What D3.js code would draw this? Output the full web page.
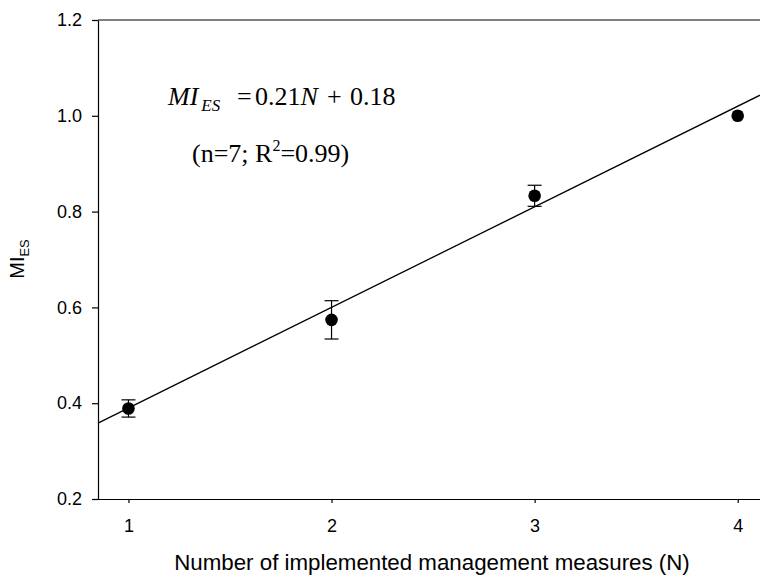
<!DOCTYPE html>
<html>
<head>
<meta charset="utf-8">
<script src="https://cdn.jsdelivr.net/npm/d3@7"></script>
<style>
  body { margin: 0; background: #fff; }
  svg { display: block; }
  .axis text { font-family: Arial, "Liberation Sans", sans-serif; font-size: 18px; fill: #000; }
  .axis path, .axis line { stroke: #000; stroke-width: 1.2; }
</style>
</head>
<body>
<svg width="760" height="577"></svg>
<script>
// data
var measures = [1, 2, 3, 4];
var miMeans = [0.389, 0.574, 0.833, 1.0];
var miErrors = [0.018, 0.040, 0.022, 0];
var xTicks = [1, 2, 3, 4];
var yTicks = [0.2, 0.4, 0.6, 0.8, 1.0, 1.2];
var fitSlope = 0.21, fitIntercept = 0.18;

var svg = d3.select("svg"),
    pLeft = 98, pTop = 20, pBottom = 499, pRight = 760;

var x = d3.scaleLinear().domain([0.85, 4.1]).range([pLeft, 758]),
    y = d3.scaleLinear().domain([0.2, 1.2]).range([pBottom, pTop]);

var points = measures.map(function(n, i) {
  return { n: n, mean: miMeans[i], err: miErrors[i] };
});

// top frame line
svg.append("line")
    .attr("x1", pLeft).attr("x2", pRight)
    .attr("y1", pTop).attr("y2", pTop)
    .attr("stroke", "#000").attr("stroke-width", 1.2);

// x as
var gx = svg.append("g")
    .attr("class", "axis")
    .attr("transform", "translate(0," + pBottom + ")")
    .call(d3.axisBottom(x).tickValues(xTicks).tickFormat(d3.format("d"))
      .tickSizeInner(4).tickSizeOuter(0).tickPadding(16));
gx.select(".domain").attr("d", "M" + pLeft + ",0.5H" + pRight);

// y as
svg.append("g")
    .attr("class", "axis")
    .attr("transform", "translate(" + pLeft + ",0)")
    .call(d3.axisLeft(y).tickValues(yTicks).tickFormat(d3.format(".1f"))
      .tickSizeInner(6).tickSizeOuter(0).tickPadding(10));

// regressielijn
var lineN = [x.domain()[0], x.invert(pRight)];
svg.append("path")
    .datum(lineN)
    .attr("fill", "none")
    .attr("stroke", "#000")
    .attr("stroke-width", 1.3)
    .attr("d", d3.line()
      .x(function(n) { return x(n); })
      .y(function(n) { return y(fitSlope * n + fitIntercept); }));

// foutbalken
var eb = svg.append("g").selectAll("g")
    .data(points.filter(function(d) { return d.err > 0; }))
    .enter().append("g")
    .attr("stroke", "#000").attr("stroke-width", 1.2);
eb.append("line")
    .attr("x1", function(d) { return x(d.n); })
    .attr("x2", function(d) { return x(d.n); })
    .attr("y1", function(d) { return y(d.mean - d.err); })
    .attr("y2", function(d) { return y(d.mean + d.err); });
[-1, 1].forEach(function(s) {
  eb.append("line")
      .attr("x1", function(d) { return x(d.n) - 7; })
      .attr("x2", function(d) { return x(d.n) + 7; })
      .attr("y1", function(d) { return y(d.mean + s * d.err); })
      .attr("y2", function(d) { return y(d.mean + s * d.err); });
});

// punten
svg.append("g").selectAll("circle")
    .data(points)
    .enter().append("circle")
    .attr("cx", function(d) { return x(d.n); })
    .attr("cy", function(d) { return y(d.mean); })
    .attr("r", 6.3)
    .attr("fill", "#000");

// vergelijking
var serif = "'Times New Roman', 'Liberation Serif', serif";
var eq = svg.append("text")
    .attr("x", 168).attr("y", 105)
    .attr("font-family", serif).attr("font-size", 26).attr("fill", "#000");
eq.append("tspan").attr("font-style", "italic").text("MI");
eq.append("tspan").attr("font-style", "italic").attr("font-size", 17).attr("dy", 6).attr("dx", 3).text("ES");
eq.append("tspan").attr("x", 237).attr("dy", -6).text("=");
eq.append("tspan").attr("x", 255).text("0.21");
eq.append("tspan").attr("font-style", "italic").text("N");
eq.append("tspan").attr("x", 327).text("+");
eq.append("tspan").attr("x", 350).text("0.18");

var stat = svg.append("text")
    .attr("x", 192).attr("y", 162)
    .attr("font-family", serif).attr("font-size", 26).attr("fill", "#000");
stat.append("tspan").text("(n=7; R");
stat.append("tspan").attr("font-size", 16).attr("dy", -11).text("2");
stat.append("tspan").attr("dy", 11).text("=0.99)");

// as labels
svg.append("text")
    .attr("x", 432).attr("y", 570)
    .attr("text-anchor", "middle")
    .attr("font-family", "Arial, 'Liberation Sans', sans-serif")
    .attr("font-size", 22.3)
    .text("Number of implemented management measures (N)");

var yl = svg.append("text")
    .attr("transform", "translate(24,259) rotate(-90)")
    .attr("text-anchor", "middle")
    .attr("font-family", "Arial, 'Liberation Sans', sans-serif")
    .attr("font-size", 20);
yl.append("tspan").text("MI");
yl.append("tspan").attr("font-size", 13).attr("dy", 5).text("ES");
</script>
</body>
</html>
